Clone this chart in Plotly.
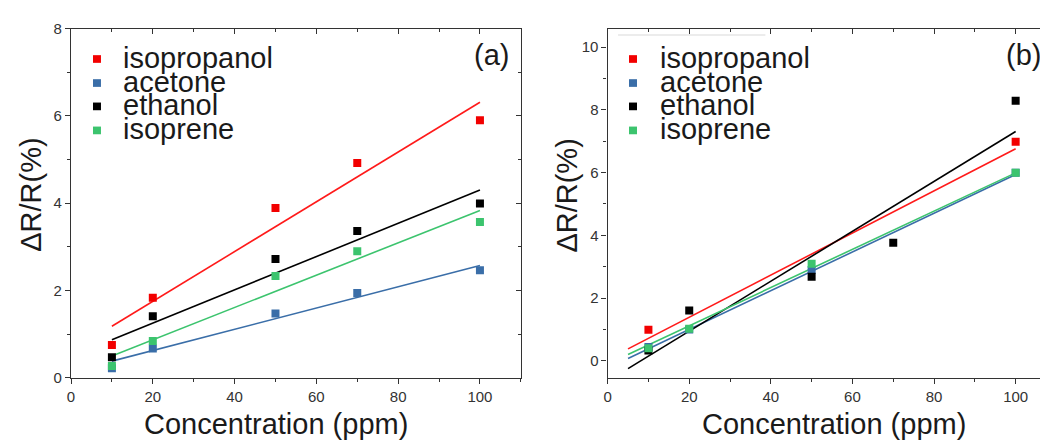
import plotly.graph_objects as go

# page body has an 8px default margin: figure is drawn 8px right/down
OFF = 8
W, H = 1048 - OFF, 446 - OFF

# ---------------- data ----------------
series = ["isopropanol", "acetone", "ethanol", "isoprene"]
marker_colors = ["#f20000", "#3a6ea8", "#000000", "#3cc46e"]
line_colors = ["#ff1a1a", "#3a6ea8", "#000000", "#3cc46e"]

# panel (a)
a_x = [10, 20, 50, 70, 100]
a_isopropanol = [0.75, 1.83, 3.89, 4.92, 5.90]
a_acetone = [0.22, 0.67, 1.47, 1.94, 2.46]
a_ethanol = [0.47, 1.41, 2.72, 3.36, 3.99]
a_isoprene = [0.27, 0.84, 2.33, 2.90, 3.57]
a_fit_x = [10, 100]
a_fit_isopropanol = [1.18, 6.31]
a_fit_acetone = [0.38, 2.57]
a_fit_ethanol = [0.87, 4.30]
a_fit_isoprene = [0.50, 3.83]

# panel (b)
b_isopropanol_x = [10, 100]
b_isopropanol = [0.99, 6.98]
b_acetone_x = [10, 20, 50, 100]
b_acetone = [0.44, 1.00, 2.89, 5.99]
b_ethanol_x = [10, 20, 50, 70, 100]
b_ethanol = [0.33, 1.60, 2.68, 3.76, 8.29]
b_isoprene_x = [10, 20, 50, 100]
b_isoprene = [0.40, 1.02, 3.09, 5.99]
b_fit_x = [5, 100]
b_fit_isopropanol = [0.38, 6.76]
b_fit_acetone = [0.07, 5.94]
b_fit_ethanol = [-0.25, 7.31]
b_fit_isoprene = [0.20, 5.99]

x_title = "Concentration (ppm)"
y_title = "ΔR/R(%)"

# ---------------- layout geometry (screen px) ----------------
A_L, A_R = 67.3, 519.3
B_L, B_R = 606.5, 1048
TOP, BOT = 20, 383.3

def px(x):
    return (x - OFF) / W

def py(y):
    return (H - (y - OFF)) / H

FONT = "Liberation Sans, Arial, sans-serif"
AX_COL = "#333333"

fig = go.Figure()

a_vals = [a_isopropanol, a_acetone, a_ethanol, a_isoprene]
a_fits = [a_fit_isopropanol, a_fit_acetone, a_fit_ethanol, a_fit_isoprene]
b_xs = [b_isopropanol_x, b_acetone_x, b_ethanol_x, b_isoprene_x]
b_vals = [b_isopropanol, b_acetone, b_ethanol, b_isoprene]
b_fits = [b_fit_isopropanol, b_fit_acetone, b_fit_ethanol, b_fit_isoprene]

for i, name in enumerate(series):
    fig.add_trace(go.Scatter(x=a_fit_x, y=a_fits[i], mode="lines",
                             line=dict(color=line_colors[i], width=1.6),
                             xaxis="x", yaxis="y", showlegend=False, hoverinfo="skip"))
for i, name in enumerate(series):
    fig.add_trace(go.Scatter(x=a_x, y=a_vals[i], mode="markers", name=name,
                             marker=dict(symbol="square", size=8, color=marker_colors[i]),
                             xaxis="x", yaxis="y", showlegend=False))
for i, name in enumerate(series):
    fig.add_trace(go.Scatter(x=b_fit_x, y=b_fits[i], mode="lines",
                             line=dict(color=line_colors[i], width=1.6),
                             xaxis="x2", yaxis="y2", showlegend=False, hoverinfo="skip"))
for i, name in enumerate(series):
    fig.add_trace(go.Scatter(x=b_xs[i], y=b_vals[i], mode="markers", name=name,
                             marker=dict(symbol="square", size=8, color=marker_colors[i]),
                             xaxis="x2", yaxis="y2", showlegend=False))

tickfont = dict(family=FONT, size=15, color="#333333")

def base_axis(**kw):
    d = dict(showgrid=False, zeroline=False, showline=True, linecolor=AX_COL,
             linewidth=1.3, ticks="outside", ticklen=5, tickwidth=1.2, tickcolor=AX_COL,
             tickfont=tickfont)
    d.update(kw)
    return d

a_xrange = [0, 110]
a_yrange = [0, 8]
b_xrange = [0, (B_R - B_L) / 4.1]
b_yrange = [-0.54, 10.59]

fig.update_layout(
    width=W, height=H, margin=dict(l=0, r=0, t=0, b=0),
    paper_bgcolor="white", plot_bgcolor="white", showlegend=False,
    xaxis=base_axis(domain=[px(A_L), px(A_R)], range=a_xrange, dtick=20, tick0=0,
                    mirror=True, anchor="y",
                    minor=dict(ticks="outside", ticklen=3, dtick=10, tick0=0, tickcolor=AX_COL)),
    yaxis=base_axis(domain=[py(BOT), py(TOP)], range=a_yrange, dtick=2, tick0=0,
                    mirror=True, anchor="x",
                    minor=dict(ticks="outside", ticklen=3, dtick=1, tick0=0, tickcolor=AX_COL)),
    xaxis2=base_axis(domain=[px(B_L), 1.0], range=b_xrange, dtick=20, tick0=0,
                     mirror=True, anchor="y2",
                     minor=dict(ticks="outside", ticklen=3, dtick=10, tick0=0, tickcolor=AX_COL)),
    yaxis2=base_axis(domain=[py(BOT), py(TOP)], range=b_yrange, dtick=2, tick0=0,
                     mirror=True, anchor="x2",
                     minor=dict(ticks="outside", ticklen=3, dtick=1, tick0=0, tickcolor=AX_COL)),
    # inward ticks on top/right frames
    xaxis3=dict(overlaying="x", side="top", range=a_xrange, anchor="y", showgrid=False,
                zeroline=False, showline=False, ticks="inside", ticklen=5, tickwidth=1.2,
                tickcolor=AX_COL, dtick=20, tick0=0, showticklabels=False,
                minor=dict(ticks="inside", ticklen=3, dtick=10, tick0=0, tickcolor=AX_COL)),
    yaxis3=dict(overlaying="y", side="right", range=a_yrange, anchor="x", showgrid=False,
                zeroline=False, showline=False, ticks="inside", ticklen=5, tickwidth=1.2,
                tickcolor=AX_COL, dtick=2, tick0=0, showticklabels=False,
                minor=dict(ticks="inside", ticklen=3, dtick=1, tick0=0, tickcolor=AX_COL)),
    xaxis4=dict(overlaying="x2", side="top", range=b_xrange, anchor="y2", showgrid=False,
                zeroline=False, showline=False, ticks="inside", ticklen=5, tickwidth=1.2,
                tickcolor=AX_COL, dtick=20, tick0=0, showticklabels=False,
                minor=dict(ticks="inside", ticklen=3, dtick=10, tick0=0, tickcolor=AX_COL)),
)

# dummy invisible traces so overlay axes get drawn
fig.add_trace(go.Scatter(x=[None], y=[None], xaxis="x3", yaxis="y", showlegend=False, hoverinfo="skip"))
fig.add_trace(go.Scatter(x=[None], y=[None], xaxis="x", yaxis="y3", showlegend=False, hoverinfo="skip"))
fig.add_trace(go.Scatter(x=[None], y=[None], xaxis="x4", yaxis="y2", showlegend=False, hoverinfo="skip"))

title_font = dict(family=FONT, size=29, color="#1a1a1a")
annotations = []
shapes = []

# axis titles
for cx in (273.5, 834):
    annotations.append(dict(text=x_title, x=px(cx), y=py(431), xref="paper", yref="paper",
                            xanchor="center", yanchor="middle", showarrow=False, font=title_font))
for cx in (27.6, 566):
    annotations.append(dict(text=y_title, x=px(cx), y=py(193.5), xref="paper", yref="paper",
                            xanchor="center", yanchor="middle", showarrow=False,
                            textangle=-90, font=title_font))

# panel labels
annotations.append(dict(text="(a)", x=px(509), y=py(48), xref="paper", yref="paper",
                        xanchor="right", yanchor="middle", showarrow=False, font=title_font))
annotations.append(dict(text="(b)", x=px(1043), y=py(48), xref="paper", yref="paper",
                        xanchor="right", yanchor="middle", showarrow=False, font=title_font,
                        borderpad=0))

# legends (text + square swatches)
rows_y = [51.7, 76.7, 101.0, 126.0]
for mx, tx in ((93.4, 117.5), (632, 657.0)):
    for i, name in enumerate(series):
        yy = rows_y[i]
        shapes.append(dict(type="rect", xref="paper", yref="paper",
                           x0=px(mx - 4), x1=px(mx + 4), y0=py(yy + 4), y1=py(yy - 4),
                           fillcolor=marker_colors[i], line=dict(width=0)))
        annotations.append(dict(text=name, x=px(tx), y=py(yy - 1.5), xref="paper", yref="paper",
                                xanchor="left", yanchor="middle", showarrow=False,
                                font=title_font))

# faint light line near top of panel (b)
shapes.append(dict(type="line", xref="paper", yref="paper", x0=px(617), x1=px(765),
                   y0=py(26.7), y1=py(26.7), line=dict(color="#e6e6e6", width=1.5)))

fig.update_layout(annotations=annotations, shapes=shapes)

fig.write_html("out.html")
